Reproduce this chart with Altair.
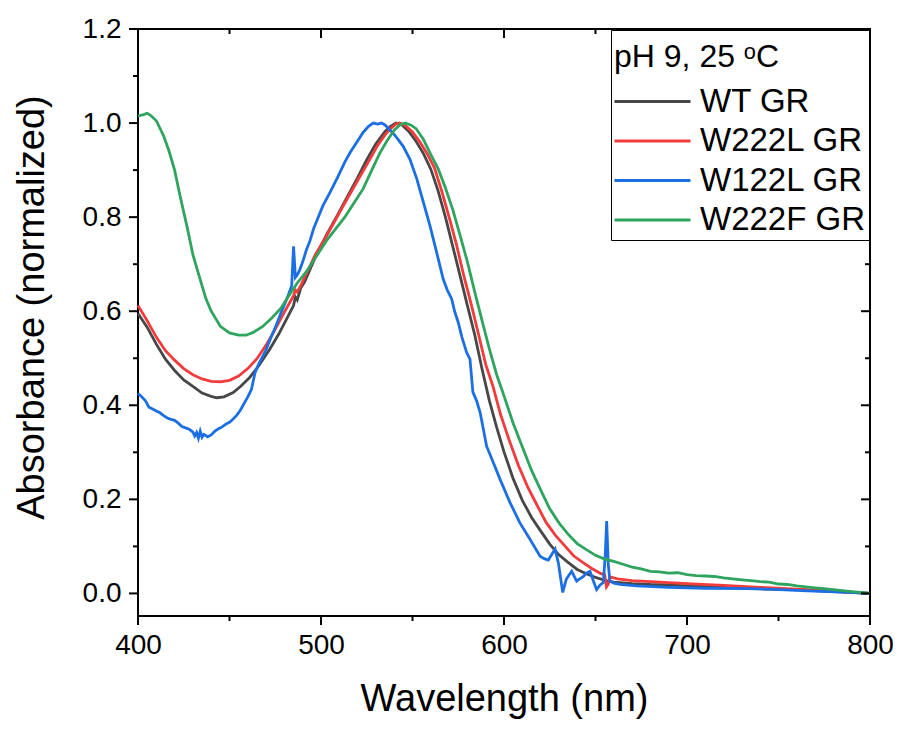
import altair as alt
import pandas as pd

series_names = ["WT GR", "W222L GR", "W122L GR", "W222F GR"]
series_colors = ["#474747", "#F23B3B", "#1C6FE2", "#2EA45E"]

wl_wt = [400, 405, 410, 415, 420, 425, 430, 435, 440, 443, 447, 452, 456, 461, 466, 472, 477, 483,
         485, 486, 487, 489, 491, 497, 503, 509, 515, 520, 525, 530, 535, 538, 541, 544, 548, 552,
         556, 560, 564, 568, 572, 576, 580, 584, 588, 592, 596, 600, 605, 610, 615, 620, 625, 630,
         635, 640, 645, 650, 655, 660, 670, 680, 690, 700, 720, 740, 760, 780, 800]
abs_wt = [0.595, 0.566, 0.530, 0.498, 0.474, 0.454, 0.440, 0.426, 0.419, 0.416, 0.418, 0.427, 0.440,
          0.459, 0.484, 0.519, 0.552, 0.597, 0.612, 0.630, 0.624, 0.650, 0.662, 0.716, 0.762, 0.804,
          0.848, 0.884, 0.922, 0.956, 0.982, 0.993, 1.000, 0.997, 0.982, 0.961, 0.935, 0.902, 0.856,
          0.800, 0.738, 0.675, 0.612, 0.550, 0.477, 0.410, 0.353, 0.301, 0.244, 0.198, 0.162, 0.133,
          0.105, 0.082, 0.066, 0.051, 0.042, 0.034, 0.028, 0.024, 0.021, 0.019, 0.018, 0.016, 0.013,
          0.010, 0.008, 0.004, 0.000]

wl_w222l = [400, 405, 410, 415, 420, 425, 430, 435, 440, 445, 450, 455, 460, 465, 470, 475, 480, 485,
            486, 487, 489, 492, 497, 503, 508, 513, 518, 523, 527, 531, 535, 538, 541, 543, 546, 550,
            554, 558, 562, 566, 570, 574, 578, 582, 586, 590, 594, 598, 603, 608, 613, 618, 623, 628,
            633, 638, 643, 648, 653, 655, 656, 657, 658, 662, 670, 680, 690, 700, 720, 740, 760, 780, 800]
abs_w222l = [0.612, 0.580, 0.545, 0.516, 0.496, 0.478, 0.465, 0.456, 0.451, 0.450, 0.453, 0.462, 0.478,
             0.499, 0.528, 0.562, 0.598, 0.633, 0.645, 0.641, 0.655, 0.680, 0.721, 0.760, 0.795, 0.830,
             0.864, 0.898, 0.925, 0.953, 0.975, 0.988, 0.998, 1.000, 0.995, 0.981, 0.960, 0.935, 0.905,
             0.855, 0.800, 0.742, 0.676, 0.616, 0.552, 0.487, 0.440, 0.382, 0.324, 0.271, 0.226, 0.188,
             0.151, 0.124, 0.102, 0.080, 0.066, 0.053, 0.042, 0.040, 0.014, 0.020, 0.035, 0.031, 0.027,
             0.025, 0.023, 0.021, 0.017, 0.013, 0.009, 0.005, 0.000]

wl_w122l = [400, 402, 404, 406, 408, 410, 412, 414, 416, 418, 420, 422, 424, 426, 428, 430, 431, 432,
            433, 434, 435, 436, 438, 440, 442, 444, 446, 448, 450, 452, 454, 456, 458, 460, 462, 463,
            464, 466, 468, 470, 472, 474, 476, 478, 480, 482, 484, 485, 486, 487, 488.5, 490, 492, 494,
            496, 498, 501, 505, 509, 513, 516, 520, 523, 526, 528.5, 531, 533, 535, 537, 539.5, 542,
            545, 548.6, 552.3, 556, 559.6, 563.2, 566.8, 569, 571.4, 573, 575, 577, 579.6, 581.4, 583,
            585, 587, 590.5, 594.2, 597.8, 603.3, 608.7, 614.2, 619.7, 622, 624.2, 626, 627.9, 629.7,
            632.1, 634, 635.2, 637, 639.7, 641, 643.4, 645, 647, 648.5, 650.6, 652.5, 654.3, 655.3,
            656.1, 657, 657.9, 660, 663.4, 672.5, 690, 710, 733, 750, 769, 785, 800]
abs_w122l = [0.425, 0.418, 0.410, 0.396, 0.392, 0.388, 0.384, 0.378, 0.373, 0.370, 0.368, 0.362, 0.355,
             0.352, 0.349, 0.343, 0.335, 0.342, 0.330, 0.345, 0.332, 0.338, 0.333, 0.337, 0.345, 0.350,
             0.354, 0.360, 0.364, 0.371, 0.379, 0.390, 0.404, 0.418, 0.434, 0.452, 0.470, 0.488, 0.503,
             0.518, 0.538, 0.556, 0.575, 0.595, 0.614, 0.633, 0.654, 0.738, 0.672, 0.677, 0.689, 0.705,
             0.730, 0.750, 0.776, 0.795, 0.824, 0.853, 0.884, 0.917, 0.938, 0.962, 0.980, 0.993, 1.000,
             0.998, 1.000, 0.996, 0.988, 0.978, 0.966, 0.950, 0.923, 0.882, 0.831, 0.781, 0.725, 0.668,
             0.645, 0.626, 0.600, 0.576, 0.545, 0.512, 0.498, 0.428, 0.410, 0.384, 0.313, 0.278, 0.243,
             0.193, 0.150, 0.115, 0.079, 0.074, 0.071, 0.082, 0.094, 0.065, 0.002, 0.030, 0.037, 0.047,
             0.026, 0.030, 0.036, 0.043, 0.047, 0.030, 0.008, 0.018, 0.023, 0.080, 0.154, 0.060, 0.026,
             0.022, 0.019, 0.016, 0.013, 0.011, 0.010, 0.008, 0.005, 0.003, 0.000]

wl_w222f = [400, 403, 405, 407, 410, 414, 417, 420, 423, 427, 430, 434, 437, 440, 445, 450, 455, 459,
            463, 468, 473, 478, 483, 487, 492, 497, 503, 508, 513, 518, 523, 528, 532, 536, 540, 543,
            546, 549, 552, 556, 560, 564, 568, 572, 576, 580, 584, 588, 592, 596, 600, 605, 610, 615,
            620, 625, 630, 635, 640, 645, 650, 655, 660, 665, 670, 675, 680, 685, 690, 695, 700, 705,
            710, 715, 720, 725, 730, 735, 740, 745, 750, 755, 760, 765, 770, 775, 780, 785, 790, 795, 800]
abs_w222f = [1.015, 1.018, 1.021, 1.016, 1.005, 0.973, 0.940, 0.900, 0.845, 0.776, 0.720, 0.667, 0.628,
             0.600, 0.568, 0.554, 0.549, 0.549, 0.555, 0.567, 0.585, 0.606, 0.636, 0.660, 0.684, 0.714,
             0.750, 0.775, 0.800, 0.830, 0.860, 0.902, 0.935, 0.962, 0.985, 0.996, 1.000, 0.996, 0.988,
             0.965, 0.933, 0.903, 0.862, 0.816, 0.761, 0.705, 0.641, 0.580, 0.520, 0.465, 0.420, 0.362,
             0.312, 0.262, 0.220, 0.180, 0.150, 0.126, 0.106, 0.093, 0.081, 0.073, 0.068, 0.062, 0.056,
             0.052, 0.047, 0.046, 0.043, 0.044, 0.040, 0.038, 0.037, 0.036, 0.033, 0.031, 0.029, 0.027,
             0.025, 0.024, 0.020, 0.019, 0.016, 0.014, 0.012, 0.010, 0.008, 0.006, 0.004, 0.002, 0.000]

x_major = [400, 500, 600, 700, 800]
x_minor = [450, 550, 650, 750]
y_major = [0.0, 0.2, 0.4, 0.6, 0.8, 1.0, 1.2]
y_minor = [0.1, 0.3, 0.5, 0.7, 0.9, 1.1]

rows = []
for name, wls, vals in zip(series_names,
                           [wl_wt, wl_w222l, wl_w122l, wl_w222f],
                           [abs_wt, abs_w222l, abs_w122l, abs_w222f]):
    for w, v in zip(wls, vals):
        rows.append({"series": name, "wl": w, "abs": v})
df = pd.DataFrame(rows)

W, H = 732, 587
FONT = "Liberation Sans"
MAJ_SIZE, MIN_SIZE = 81, 25   # symbol sizes -> 9 px and 5 px long ticks

x_scale = alt.Scale(domain=[400, 800], nice=False, zero=False)
y_scale = alt.Scale(domain=[-0.048, 1.2], nice=False, zero=False)

lines = alt.Chart(df).mark_line(strokeWidth=2.8).encode(
    x=alt.X("wl:Q", scale=x_scale,
            axis=alt.Axis(values=x_major, title="Wavelength (nm)", format="d",
                          ticks=False, domain=False, labelFlush=False,
                          labelFont=FONT, labelFontSize=28, labelColor="black", labelPadding=15,
                          titleFont=FONT, titleFontSize=38, titleFontWeight="normal",
                          titleColor="black", titleY=94, titleBaseline="alphabetic",
                          grid=False)),
    y=alt.Y("abs:Q", scale=y_scale,
            axis=alt.Axis(values=y_major, title="Absorbance (normalized)", format=".1f",
                          ticks=False, domain=False, labelFlush=False,
                          labelFont=FONT, labelFontSize=28, labelColor="black", labelPadding=17,
                          titleFont=FONT, titleFontSize=38, titleFontWeight="normal",
                          titleColor="black", titleX=-95, titleY=278,
                          titleAlign="center", titleBaseline="alphabetic",
                          grid=False)),
    color=alt.Color("series:N",
                    scale=alt.Scale(domain=series_names, range=series_colors),
                    legend=alt.Legend(title="pH 9, 25 ᵒC", orient="none",
                                      legendX=473, legendY=1,
                                      symbolType="M-9.5,0H9.5", symbolSize=64,
                                      symbolStrokeWidth=3, symbolOffset=22,
                                      labelOffset=31, rowPadding=5.5,
                                      labelExpr="datum.label + ' '",
                                      labelFont=FONT, labelFontSize=33, labelColor="black",
                                      titleFont=FONT, titleFontSize=32, titleFontWeight="normal",
                                      titleColor="black", titleBaseline="line-top",
                                      titleLineHeight=50, titlePadding=20,
                                      padding=3, strokeColor="black",
                                      fillColor="white", labelLimit=400)),
)


def x_ticks(values, y_pos, size):
    # vertical stroke starting at the frame edge and going downwards
    return alt.Chart(pd.DataFrame({"wl": values})).mark_point(
        shape="M0,0V2", size=size, filled=False, color="black",
        strokeWidth=2, opacity=1).encode(
        x=alt.X("wl:Q", scale=x_scale), y=alt.value(y_pos))


def y_ticks(values, x_pos, size):
    # horizontal stroke starting at the frame edge and going left
    return alt.Chart(pd.DataFrame({"abs": values})).mark_point(
        shape="M0,0H-2", size=size, filled=False, color="black",
        strokeWidth=2, opacity=1).encode(
        y=alt.Y("abs:Q", scale=y_scale), x=alt.value(x_pos))


ticks = [
    x_ticks(x_major, H, MAJ_SIZE), x_ticks(x_minor, H, MIN_SIZE),
    x_ticks(x_major, 0, MAJ_SIZE), x_ticks(x_minor, 0, MIN_SIZE),
    y_ticks(y_major, 0, MAJ_SIZE), y_ticks(y_minor, 0, MIN_SIZE),
    y_ticks(y_major, W, MAJ_SIZE), y_ticks(y_minor, W, MIN_SIZE),
]

chart = alt.layer(lines, *ticks).properties(
    width=W, height=H,
    autosize=alt.AutoSizeParams(type="none"),
    padding={"left": 130, "top": 21, "right": 23, "bottom": 105},
).configure_view(stroke="black", strokeWidth=2)

chart.save("out.html", embed_options={"renderer": "svg", "actions": False})
